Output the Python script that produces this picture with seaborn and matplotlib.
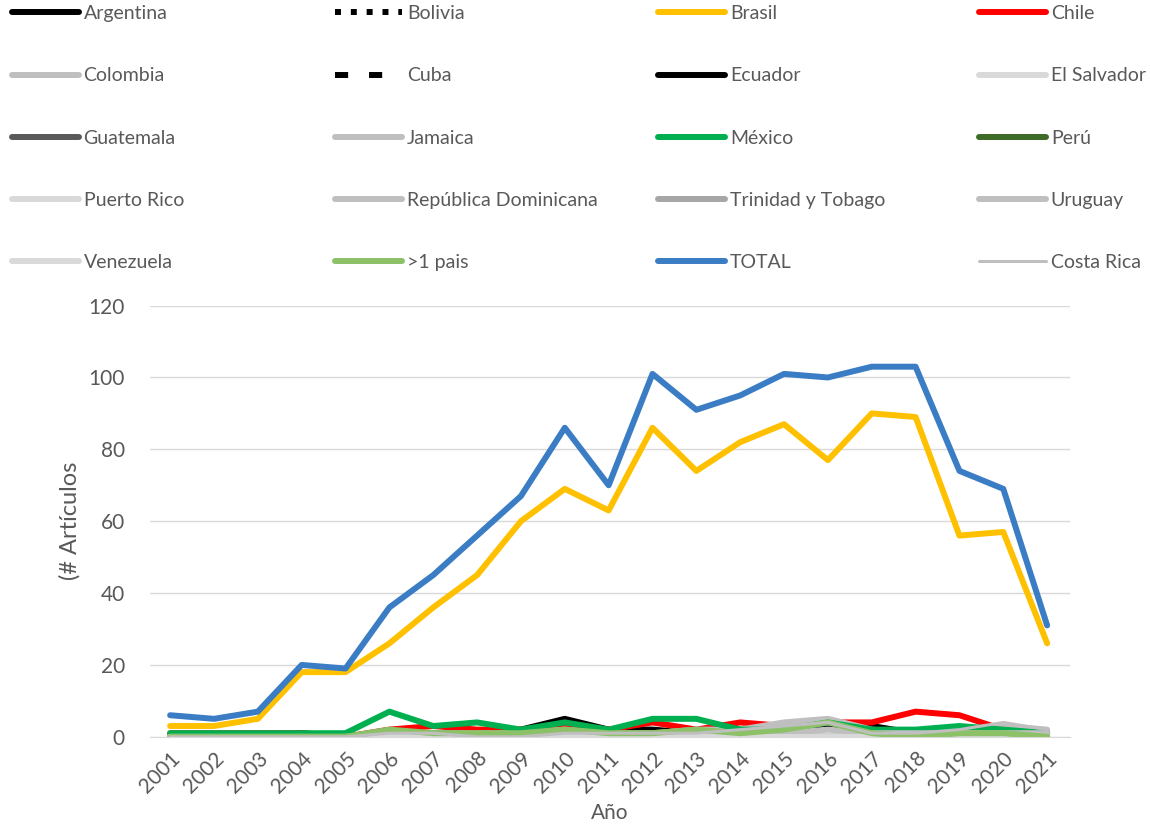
import matplotlib
matplotlib.use('Agg')
import matplotlib.pyplot as plt
import seaborn as sns
from matplotlib.lines import Line2D

years = list(range(2001, 2022))

argentina = [0, 0, 0, 1, 0, 0, 1, 1, 2, 5, 2, 2, 1, 2, 2, 3, 3, 1, 1, 1, 1]
bolivia = [0, 0, 0, 0, 0, 0, 0, 0, 0, 0, 0, 0, 0, 0, 0, 0, 0, 0, 0, 0, 0]
brasil = [3, 3, 5, 18, 18, 26, 36, 45, 60, 69, 63, 86, 74, 82, 87, 77, 90, 89, 56, 57, 26]
chile = [1, 1, 1, 1, 0, 2, 3, 2, 2, 3, 2, 4, 2, 4, 3, 4, 4, 7, 6, 2, 1]
colombia = [0, 0, 0, 0, 0, 1, 1, 1, 1, 2, 1, 1, 2, 2, 4, 5, 2, 1, 2, 3, 2]
cuba = [0, 0, 0, 0, 0, 0, 0, 0, 0, 0, 0, 0, 0, 0, 0, 0, 0, 0, 0, 0, 0]
ecuador = [0, 0, 0, 0, 0, 0, 0, 0, 0, 1, 0, 0, 0, 0, 0, 0, 0, 0, 0, 0, 0]
el_salvador = [0, 0, 0, 0, 0, 0, 0, 0, 0, 0, 0, 0, 0, 0, 0, 0, 0, 0, 0, 0, 0]
guatemala = [0, 0, 0, 0, 0, 0, 0, 0, 0, 0, 0, 0, 0, 0, 0, 0, 0, 0, 0, 0, 0]
jamaica = [0, 0, 0, 0, 0, 0, 0, 0, 0, 0, 0, 0, 0, 0, 0, 0, 0, 0, 0, 0, 0]
mexico = [1, 1, 1, 1, 1, 7, 3, 4, 2, 4, 2, 5, 5, 2, 2, 4, 2, 2, 3, 2, 1]
peru = [0, 0, 0, 0, 0, 0, 0, 0, 0, 0, 0, 0, 0, 0, 0, 0, 0, 0, 0, 0, 0]
puerto_rico = [0, 0, 0, 0, 0, 0, 0, 0, 0, 0, 0, 0, 0, 0, 0, 0, 0, 0, 0, 0, 0]
rep_dominicana = [0, 0, 0, 0, 0, 0, 0, 0, 0, 0, 0, 0, 0, 0, 0, 0, 0, 0, 0, 0, 0]
trinidad = [0, 0, 0, 0, 0, 0, 0, 0, 0, 0, 0, 0, 0, 0, 0, 0, 0, 0, 0, 0, 0]
uruguay = [0, 0, 0, 0, 0, 1, 0, 0, 0, 1, 0, 0, 1, 1, 1, 2, 1, 1, 1, 1, 1]
venezuela = [0, 0, 0, 0, 0, 0, 0, 0, 0, 0, 0, 0, 0, 0, 0, 0, 0, 0, 0, 0, 0]
mas_un_pais = [0, 0, 0, 0, 0, 2, 1, 1, 1, 2, 1, 1, 2, 1, 2, 4, 1, 0, 1, 1, 0]
total = [6, 5, 7, 20, 19, 36, 45, 56, 67, 86, 70, 101, 91, 95, 101, 100, 103, 103, 74, 69, 31]
costa_rica = [0, 0, 0, 0, 0, 1, 1, 0, 0, 1, 1, 1, 1, 2, 3, 4, 1, 1, 2, 4, 2]

LW = 4.3
# name, values, color, linestyle, width
series = [
    ('Argentina', argentina, 'black', '-', LW),
    ('Bolivia', bolivia, 'black', ':', LW),
    ('Brasil', brasil, '#FFC000', '-', LW),
    ('Chile', chile, '#FF0000', '-', LW),
    ('Colombia', colombia, '#BFBFBF', '-', LW),
    ('Cuba', cuba, 'black', (0, (2.2, 3.5)), LW),
    ('Ecuador', ecuador, 'black', '-', LW),
    ('El Salvador', el_salvador, '#D9D9D9', '-', LW),
    ('Guatemala', guatemala, '#595959', '-', LW),
    ('Jamaica', jamaica, '#BFBFBF', '-', LW),
    ('México', mexico, '#00B050', '-', LW),
    ('Perú', peru, '#3F6B28', '-', LW),
    ('Puerto Rico', puerto_rico, '#D9D9D9', '-', LW),
    ('República Dominicana', rep_dominicana, '#BFBFBF', '-', LW),
    ('Trinidad y Tobago', trinidad, '#A6A6A6', '-', LW),
    ('Uruguay', uruguay, '#BFBFBF', '-', LW),
    ('Venezuela', venezuela, '#D9D9D9', '-', LW),
    ('>1 pais', mas_un_pais, '#8CC168', '-', LW),
    ('TOTAL', total, '#3B7DC4', '-', LW),
    ('Costa Rica', costa_rica, '#BFBFBF', '-', 2.2),
]

sns.set_style('white')
plt.rcParams['font.family'] = ['Lato', 'DejaVu Sans']
gray = '#595959'

fig = plt.figure(figsize=(11.5, 8.26), dpi=100)
ax = fig.add_axes([0.1304, 0.108, 0.80, 0.522])

for name, vals, col, ls, lw in series:
    sns.lineplot(x=years, y=vals, color=col, linestyle=ls, linewidth=lw, ax=ax,
                 legend=False)

ax.set_ylim(0, 120)
ax.set_yticks(range(0, 121, 20))
ax.set_xlim(2000.54, 2021.52)
ax.set_xticks(years)
ax.set_xticklabels([str(y) for y in years], rotation=45, ha='right',
                   rotation_mode='anchor')
ax.tick_params(axis='both', colors=gray, labelsize=15, length=0)
ax.tick_params(axis='x', pad=8)
ax.tick_params(axis='y', pad=18)
ax.yaxis.grid(True, color='#D9D9D9', linewidth=1)
for s in ['top', 'right', 'left']:
    ax.spines[s].set_visible(False)
ax.spines['bottom'].set_color('#D9D9D9')
ax.set_xlabel('Año', color=gray, fontsize=15, labelpad=5)
ax.set_ylabel('(# Artículos', color=gray, fontsize=17, labelpad=6)

# legend: 4 columns, row-major order
handles = [Line2D([0], [0], color=c, linestyle=ls, linewidth=lw)
           for _, _, c, ls, lw in series]
labels = [s[0] for s in series]
col_x = [0.0, 0.281, 0.562, 0.841]
for j in range(4):
    idx = list(range(j, len(series), 4))
    leg = fig.legend([handles[i] for i in idx], [labels[i] for i in idx],
                     loc='upper left', bbox_to_anchor=(col_x[j], 1.008),
                     frameon=False, fontsize=14, handlelength=3.45,
                     handletextpad=0.25, labelspacing=2.33, borderaxespad=0.2)
    for t in leg.get_texts():
        t.set_color(gray)

fig.savefig('out.png', dpi=100)
